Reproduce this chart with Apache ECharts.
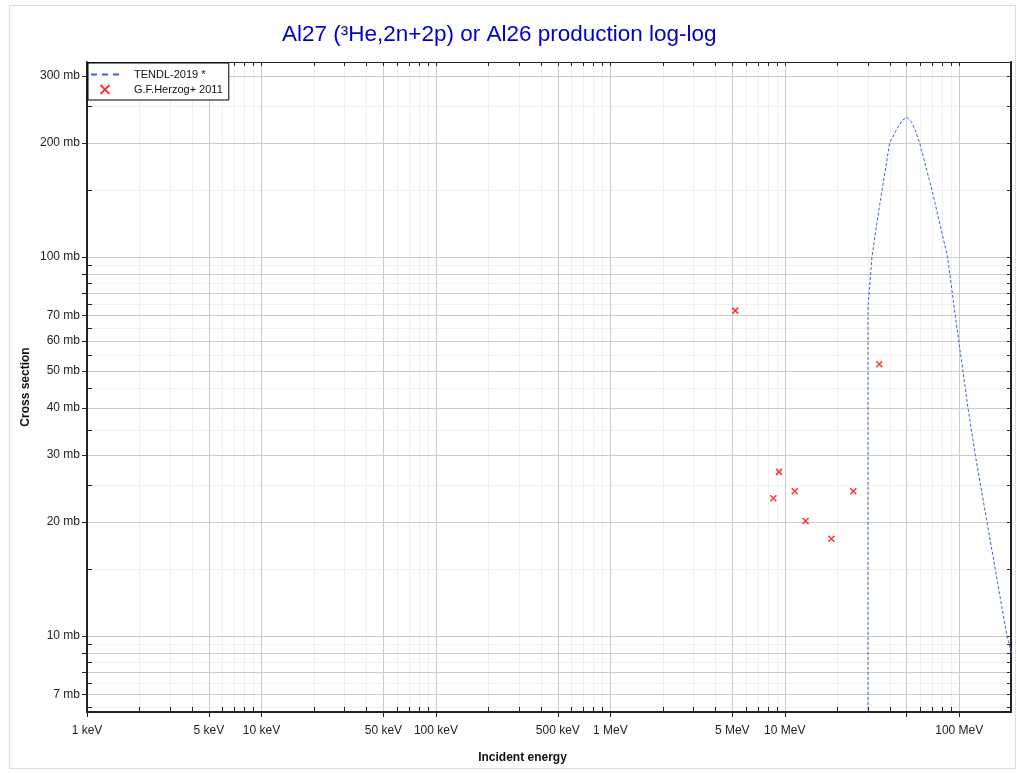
<!DOCTYPE html>
<html>
<head>
<meta charset="utf-8">
<script src="https://cdn.jsdelivr.net/npm/echarts@6/dist/echarts.min.js"></script>
<style>
  html, body { margin: 0; padding: 0; background: #ffffff; }
  #chart { width: 1020px; height: 773px; }
</style>
</head>
<body>
<div id="chart"></div>
<script>
// ---------- data (energies in MeV, cross sections in mb) ----------
const tendlEnergy = [30, 30, 31.6, 33.8, 36.1, 39.9, 44, 47, 50, 53, 56, 59.3, 69.8, 85.7, 94.9, 105, 112.2, 123.6, 144.2, 187.6, 200];
const tendlXS     = [1,  73.8, 100, 124, 150, 200, 218, 229, 234, 228, 216, 200, 150, 100, 70, 50, 40, 30, 20, 10, 9.0];

const herzogEnergy = [5.2, 8.59, 9.27, 11.4, 13.15, 18.5, 24.7, 34.8];
const herzogXS     = [72.2, 23.1, 27.1, 24.1, 20.1, 18.06, 24.1, 52.1];

// ---------- axis ticks ----------
const xMajorTicks = [0.001, 0.005, 0.01, 0.05, 0.1, 0.5, 1, 5, 10, 50, 100];
const xMinorTicks = [0.002, 0.003, 0.004, 0.006, 0.007, 0.008, 0.009,
                     0.02, 0.03, 0.04, 0.06, 0.07, 0.08, 0.09,
                     0.2, 0.3, 0.4, 0.6, 0.7, 0.8, 0.9,
                     2, 3, 4, 6, 7, 8, 9,
                     20, 30, 40, 60, 70, 80, 90];
const xLabelTicks = [0.001, 0.005, 0.01, 0.05, 0.1, 0.5, 1, 5, 10, 100];

const yMajorTicks = [7, 8, 9, 10, 20, 30, 40, 50, 60, 70, 80, 90, 100, 200, 300];
const yMinorTicks = [6.5, 7.5, 8.5, 9.5, 15, 25, 35, 45, 55, 65, 75, 85, 95, 150, 250];
const yLabelTicks = [7, 10, 20, 30, 40, 50, 60, 70, 100, 200, 300];

const xMin = 0.001, xMax = 198;
const yMin = 6.3, yMax = 327;

const titleText = 'Al27 (\u00B3He,2n+2p) or Al26 production log-log';

// ---------- build ----------
const font = 'Liberation Sans, Arial, Helvetica, sans-serif';
const axisColor = '#222222';
const majorGrid = '#cccccc';
const minorGrid = '#efefef';

function fmtE(v) {
  if (v < 0.9999) return Math.round(v * 1000) + ' keV';
  return (Math.round(v * 1000) / 1000) + ' MeV';
}
function fmtXS(v) { return v + ' mb'; }

const tendlData = tendlEnergy.map((e, i) => [e, tendlXS[i]]);
const herzogData = herzogEnergy.map((e, i) => [e, herzogXS[i]]);

const chart = echarts.init(document.getElementById('chart'), null, { renderer: 'canvas' });

const crossPath = 'path://M0,0L10,10M10,0L0,10';
const dashIcon = 'path://M0,0L6,0L6,2L0,2Z M11,0L17,0L17,2L11,2Z M22,0L28,0L28,2L22,2Z';

function baseX(extra) {
  return Object.assign({ type: 'log', logBase: 10, min: xMin, max: xMax }, extra);
}
function baseY(extra) {
  return Object.assign({ type: 'log', logBase: 10, min: yMin, max: yMax }, extra);
}

const option = {
  backgroundColor: '#ffffff',
  animation: false,
  textStyle: { fontFamily: font },
  title: {
    text: titleText,
    left: 282,
    top: 23,
    padding: 0,
    textStyle: { color: '#0000cc', fontSize: 22.5, fontWeight: 'normal', fontFamily: font }
  },
  graphic: [{
    type: 'rect',
    left: 7, top: 3,
    shape: { width: 1006, height: 763 },
    style: { fill: 'none', stroke: '#dddddd', lineWidth: 1 },
    silent: true, z: -10
  }],
  legend: {
    left: 88, top: 63,
    orient: 'vertical',
    backgroundColor: '#ffffff',
    borderColor: '#000000',
    borderWidth: 1,
    borderRadius: 0,
    padding: [6, 6, 5, 3],
    itemWidth: 28,
    itemHeight: 9,
    itemGap: 4,
    textStyle: { fontSize: 11, color: '#111', fontFamily: font, padding: [0, 0, 0, 10] },
    data: [
      { name: 'TENDL-2019 *', icon: dashIcon, itemStyle: { color: '#3a5fdc' } },
      { name: 'G.F.Herzog+ 2011' }
    ],
    z: 10
  },
  grid: { left: 87, right: 9, top: 62, bottom: 61, containLabel: false },
  xAxis: [
    baseX({
      position: 'bottom', z: 1,
      name: 'Incident energy', nameLocation: 'middle', nameGap: 40, nameMoveOverlap: false,
      nameTextStyle: { fontWeight: 'bold', fontSize: 12, color: '#111', fontFamily: font, padding: [0, 53, 0, 0] },
      axisLine: { show: true, lineStyle: { color: axisColor, width: 2 } },
      axisTick: { show: true, inside: false, length: 5, customValues: xMajorTicks, lineStyle: { color: axisColor, width: 1 } },
      axisLabel: { show: true, customValues: xLabelTicks, formatter: fmtE, fontSize: 12, color: '#222', margin: 13, fontFamily: font },
      splitLine: { show: true, lineStyle: { color: majorGrid, width: 1 } }
    }),
    baseX({
      position: 'bottom', z: 0,
      axisLine: { show: false },
      axisTick: { show: true, inside: true, length: 5, customValues: xMinorTicks.concat(xMajorTicks), lineStyle: { color: axisColor, width: 1 } },
      axisLabel: { show: false },
      splitLine: { show: true, lineStyle: { color: minorGrid, width: 1 } }
    }),
    baseX({
      position: 'top', z: 1,
      axisLine: { show: true, lineStyle: { color: axisColor, width: 1 } },
      axisTick: { show: true, inside: true, length: 4, customValues: xMinorTicks.concat(xMajorTicks), lineStyle: { color: axisColor, width: 1 } },
      axisLabel: { show: false },
      splitLine: { show: false }
    })
  ],
  yAxis: [
    baseY({
      position: 'left', z: 1,
      name: 'Cross section', nameLocation: 'middle', nameGap: 55, nameMoveOverlap: false,
      nameTextStyle: { fontWeight: 'bold', fontSize: 12, color: '#111', fontFamily: font },
      axisLine: { show: true, lineStyle: { color: axisColor, width: 2 } },
      axisTick: { show: true, inside: false, length: 5, customValues: yMajorTicks, lineStyle: { color: axisColor, width: 1 } },
      axisLabel: { show: true, customValues: yLabelTicks, formatter: fmtXS, fontSize: 12, color: '#222', margin: 7, fontFamily: font },
      splitLine: { show: true, lineStyle: { color: majorGrid, width: 1 } }
    }),
    baseY({
      position: 'left', z: 0,
      axisLine: { show: false },
      axisTick: { show: true, inside: true, length: 5, customValues: yMinorTicks.concat(yMajorTicks), lineStyle: { color: axisColor, width: 1 } },
      axisLabel: { show: false },
      splitLine: { show: true, lineStyle: { color: minorGrid, width: 1 } }
    }),
    baseY({
      position: 'right', z: 1,
      axisLine: { show: true, lineStyle: { color: axisColor, width: 2 } },
      axisTick: { show: true, inside: true, length: 4, customValues: yMinorTicks.concat(yMajorTicks), lineStyle: { color: axisColor, width: 1 } },
      axisLabel: { show: false },
      splitLine: { show: false }
    })
  ],
  series: [
    {
      name: 'TENDL-2019 *',
      type: 'line',
      xAxisIndex: 0, yAxisIndex: 0,
      data: tendlData,
      showSymbol: false,
      symbol: 'none',
      clip: true,
      color: '#3a5fdc',
      lineStyle: { color: '#3a5fdc', width: 1, type: [3, 2] },
      z: 3
    },
    {
      name: 'G.F.Herzog+ 2011',
      type: 'scatter',
      xAxisIndex: 0, yAxisIndex: 0,
      data: herzogData,
      symbol: crossPath,
      symbolSize: 6,
      color: '#ff0000',
      itemStyle: { color: 'rgba(0,0,0,0)', borderColor: '#ff0000', borderWidth: 1.5 },
      z: 4
    }
  ]
};
chart.setOption(option);
</script>
</body>
</html>
